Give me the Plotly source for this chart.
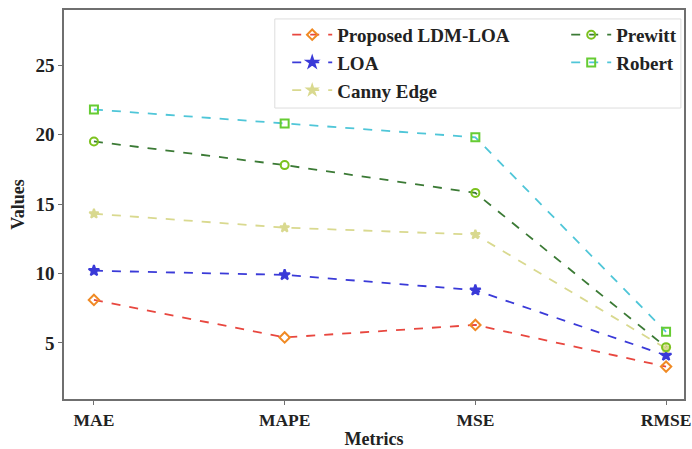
import plotly.graph_objects as go

metrics = ["MAE", "MAPE", "MSE", "RMSE"]
proposed = [8.1, 5.4, 6.3, 3.3]
loa = [10.2, 9.9, 8.8, 4.1]
canny = [14.3, 13.3, 12.8, 4.6]
prewitt = [19.5, 17.8, 15.8, 4.7]
robert = [21.8, 20.8, 19.8, 5.8]
y_ticks = [5, 10, 15, 20, 25]

FONT = "Liberation Serif"
xpos = list(range(len(metrics)))

series = [
    ("Proposed LDM-LOA", proposed, "#e8473f", "diamond-open", "#f08a24", 8, "legend"),
    ("LOA", loa, "#3a3ad8", "star", "#3a3ad8", 8, "legend"),
    ("Canny Edge", canny, "#d9d98f", "star", "#d9d98f", 7, "legend"),
    ("Prewitt", prewitt, "#3b7a35", "circle-open", "#7cc21e", 8, "legend2"),
    ("Robert", robert, "#4fc6d8", "square-open", "#66cc33", 8, "legend2"),
]

fig = go.Figure()
for name, vals, lc, sym, mc, ms, lg in series:
    fig.add_trace(go.Scatter(
        x=xpos, y=vals, name=name, mode="lines+markers",
        line=dict(color=lc, width=1.8, dash="dash"),
        marker=dict(symbol=sym, size=ms, color=mc, line=dict(color=mc, width=2)),
        legend=lg,
    ))

axis_common = dict(
    showline=True, linecolor="#6f6f6f", linewidth=1.5, mirror=True,
    showgrid=False, zeroline=False, ticks="outside", ticklen=4, tickcolor="#6f6f6f",
    automargin=False, ticklabeloverflow="allow",
)

legend_common = dict(
    font=dict(family=FONT, size=19, color="#222", weight="bold"),
    bgcolor="rgba(0,0,0,0)", borderwidth=0, tracegroupgap=0,
    xanchor="left", yanchor="top", itemwidth=40,
)

title_font = dict(family=FONT, size=18, color="#222", weight="bold")

fig.update_layout(
    width=692, height=449,
    margin=dict(l=64, r=8, t=10, b=50),
    paper_bgcolor="white", plot_bgcolor="white",
    xaxis=dict(range=[-0.157, 3.094], tickvals=xpos, ticktext=metrics,
               tickfont=dict(family=FONT, size=17.5, color="#222", weight="bold"),
               title=dict(text="Metrics", font=title_font, standoff=4),
               **axis_common),
    yaxis=dict(range=[0.97, 28.96], tickvals=y_ticks,
               tickfont=dict(family=FONT, size=19, color="#222", weight="bold"),
               title=dict(text="Values", font=title_font, standoff=6),
               **axis_common),
    legend=dict(x=0.36, y=0.985, **legend_common),
    legend2=dict(x=0.81, y=0.985, **legend_common),
    shapes=[dict(type="rect", xref="paper", yref="paper", x0=0.340, x1=0.995, y0=0.748, y1=0.977,
                 line=dict(color="#dddddd", width=1), fillcolor="rgba(255,255,255,0.8)", layer="below")],
    showlegend=True,
)

fig.write_html("out.html")
